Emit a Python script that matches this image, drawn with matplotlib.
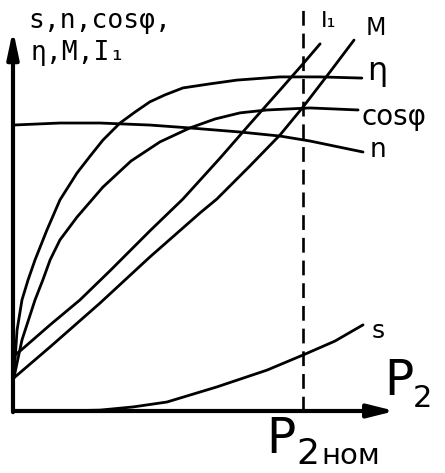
import numpy as np
import matplotlib
matplotlib.use('Agg')
from matplotlib import pyplot as plt

#-----------------------------------
# Curves.
# x: P2 / P2nom (1.0 is the dashed line), y: relative units
eta_x = [0.003, 0.014, 0.031, 0.052, 0.076, 0.117, 0.162, 0.221, 0.266, 0.310,
         0.369, 0.421, 0.472, 0.524, 0.586, 0.679, 0.772, 0.921, 1.059, 1.203]
eta_y = [0.114, 0.279, 0.383, 0.452, 0.521, 0.624, 0.728, 0.821, 0.879, 0.934,
         0.993, 1.031, 1.066, 1.090, 1.114, 1.128, 1.141, 1.152, 1.152, 1.148]

cos_x = [0.003, 0.031, 0.076, 0.103, 0.128, 0.162, 0.221, 0.310, 0.407, 0.507,
         0.610, 0.697, 0.783, 0.876, 1.024, 1.190]
cos_y = [0.114, 0.245, 0.383, 0.452, 0.521, 0.590, 0.669, 0.772, 0.862, 0.928,
         0.976, 1.007, 1.028, 1.038, 1.045, 1.038]

n_x = [0.0, 0.162, 0.300, 0.472, 0.610, 0.783, 0.921, 1.024, 1.207]
n_y = [0.986, 0.993, 0.993, 0.986, 0.976, 0.962, 0.948, 0.931, 0.893]

i1_x = [0.003, 0.028, 0.128, 0.231, 0.334, 0.403, 0.472, 0.586, 0.714, 0.817,
        0.921, 1.0, 1.059]
i1_y = [0.190, 0.210, 0.297, 0.383, 0.483, 0.552, 0.621, 0.731, 0.872, 0.990,
        1.107, 1.197, 1.266]

m_x = [0.003, 0.128, 0.300, 0.472, 0.645, 0.703, 0.817, 0.921, 1.0, 1.093, 1.176]
m_y = [0.114, 0.221, 0.372, 0.531, 0.683, 0.731, 0.845, 0.952, 1.048, 1.169, 1.279]

s_x = [0.0, 0.162, 0.300, 0.414, 0.531, 0.703, 0.876, 1.0, 1.110, 1.207]
s_y = [0.0, 0.0, 0.003, 0.014, 0.031, 0.083, 0.141, 0.193, 0.241, 0.297]

p2_nom = 1.0
x_axis_end = 1.317
y_axis_end = 1.314
dash_top = 1.39

plt.rcParams['font.family'] = ['DejaVu Sans']

#-----------------------------------
# Plot
fig = plt.figure(figsize=(4.45, 4.73), dpi=100)
ax = fig.add_axes([0, 0, 1, 1])
ax.set_xlim(-0.0448, 1.4897)
ax.set_ylim(-0.2138, 1.4172)
ax.axis('off')

lw = 2.0
ax.plot(eta_x, eta_y, color='k', lw=lw, solid_capstyle='round')
ax.plot(cos_x, cos_y, color='k', lw=lw, solid_capstyle='round')
ax.plot(n_x, n_y, color='k', lw=lw, solid_capstyle='round')
ax.plot(i1_x, i1_y, color='k', lw=lw, solid_capstyle='round')
ax.plot(m_x, m_y, color='k', lw=lw, solid_capstyle='round')
ax.plot(s_x, s_y, color='k', lw=lw, solid_capstyle='round')

# dashed nominal power line
ax.plot([p2_nom, p2_nom], [0, dash_top], color='k', lw=1.9,
        ls=(0, (5.6, 3.0)))

# axes with arrows
ax.annotate('', xy=(x_axis_end, 0), xytext=(0, 0),
            arrowprops=dict(arrowstyle='-|>,head_length=0.8,head_width=0.2',
                            lw=3.0, color='k', shrinkA=0, shrinkB=0,
                            mutation_scale=20))
ax.annotate('', xy=(0, y_axis_end), xytext=(0, -0.004),
            arrowprops=dict(arrowstyle='-|>,head_length=0.8,head_width=0.17',
                            lw=3.0, color='k', shrinkA=0, shrinkB=0,
                            mutation_scale=20))

# labels
mono = ['DejaVu Sans Mono', 'DejaVu Sans']
ax.text(0.063, 0.941, 's,n,cosφ,', transform=ax.transAxes, family=mono,
        fontsize=19, va='baseline', ha='left')
ax.text(0.068, 0.873, 'η,M,I₁', transform=ax.transAxes, family=mono,
        fontsize=19, va='baseline', ha='left')

ax.text(0.722, 0.943, 'I₁', transform=ax.transAxes, fontsize=16,
        va='baseline', ha='left')
ax.text(0.822, 0.926, 'M', transform=ax.transAxes, fontsize=17,
        va='baseline', ha='left')
ax.text(0.825, 0.831, 'η', transform=ax.transAxes, fontsize=23,
        va='baseline', ha='left')
ax.text(0.812, 0.736, 'cosφ', transform=ax.transAxes, fontsize=20,
        va='baseline', ha='left')
ax.text(0.830, 0.668, 'n', transform=ax.transAxes, fontsize=19,
        va='baseline', ha='left')
ax.text(0.834, 0.285, 's', transform=ax.transAxes, fontsize=18,
        va='baseline', ha='left')

ax.text(0.930, 0.165, 'P', transform=ax.transAxes,
        fontsize=35, va='baseline', ha='right')
ax.text(0.928, 0.1395, '2', transform=ax.transAxes,
        fontsize=22, va='baseline', ha='left')
ax.text(0.665, 0.0423, 'P', transform=ax.transAxes,
        fontsize=35, va='baseline', ha='right')
ax.text(0.667, 0.019, '2', transform=ax.transAxes,
        fontsize=26, va='baseline', ha='left')
ax.text(0.722, 0.019, 'ном', transform=ax.transAxes,
        fontsize=21, va='baseline', ha='left')

plt.savefig('out.png', dpi=100)
